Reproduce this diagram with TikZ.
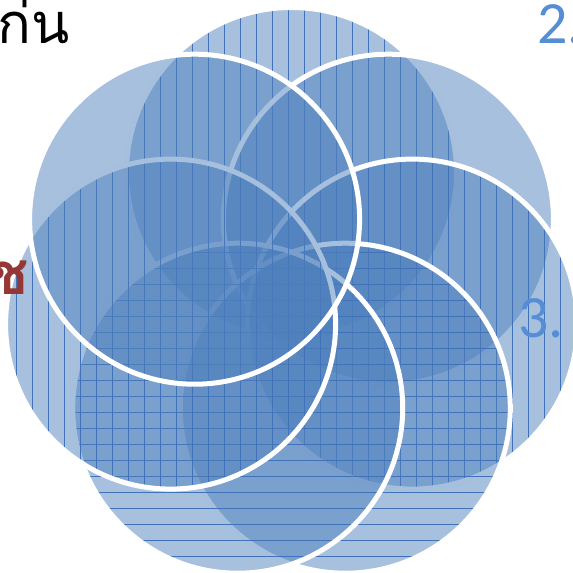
\documentclass[tikz,border=0pt]{standalone}
\usepackage{fontspec}
\newfontfamily\thaifont[Script=Thai]{Loma}
\newfontfamily\digitfont{Carlito}
\usetikzlibrary{patterns.meta}
\definecolor{acc}{HTML}{4F81BD}
\definecolor{lineblue}{HTML}{3F72B8}
\definecolor{lbl}{HTML}{558ED5}
\definecolor{redlbl}{HTML}{953735}
\tikzset{
  bub/.style={circle, inner sep=0pt, minimum size=330pt, draw=white, line width=5pt,
    preaction={fill=acc, fill opacity=0.5}},
  plainbub/.style={bub},
  vbub/.style={bub, pattern={Lines[angle=90, distance=16pt, line width=1pt]},
    pattern color=lineblue, fill opacity=0.4},
  hbub/.style={bub, pattern={Lines[angle=0, distance=16pt, line width=1pt]},
    pattern color=lineblue, fill opacity=0.4},
  bigtxt/.style={anchor=base west, inner sep=0pt}
}
\begin{document}
\begin{tikzpicture}[x=1pt, y=-1pt]
\useasboundingbox (0,0) rectangle (573,573);
\clip (0,0) rectangle (573,573);
\node[vbub] (c0) at (291.5,172.5) {};
\node[plainbub] (c1) at (388.4,219.2) {};
\node[vbub] (c2) at (412.4,324.1) {};
\node[hbub] (c3) at (345.3,408.2) {};
\node[hbub] (c4) at (237.7,408.2) {};
\node[vbub] (c5) at (170.6,324.1) {};
\node[plainbub] (c6) at (194.6,219.2) {};
\node[bigtxt, font=\fontsize{56}{68}\thaifont] (t1) at (-3,43) {ก่น};
\node[bigtxt, font=\fontsize{60}{72}\digitfont, text=lbl] (t2) at (537,43) {2.};
\node[bigtxt, font=\fontsize{58}{70}\thaifont\bfseries, text=redlbl] (t3) at (-11,294) {ช};
\node[bigtxt, font=\fontsize{60}{72}\digitfont, text=lbl] (t4) at (518,337) {3.};
\end{tikzpicture}
\end{document}
